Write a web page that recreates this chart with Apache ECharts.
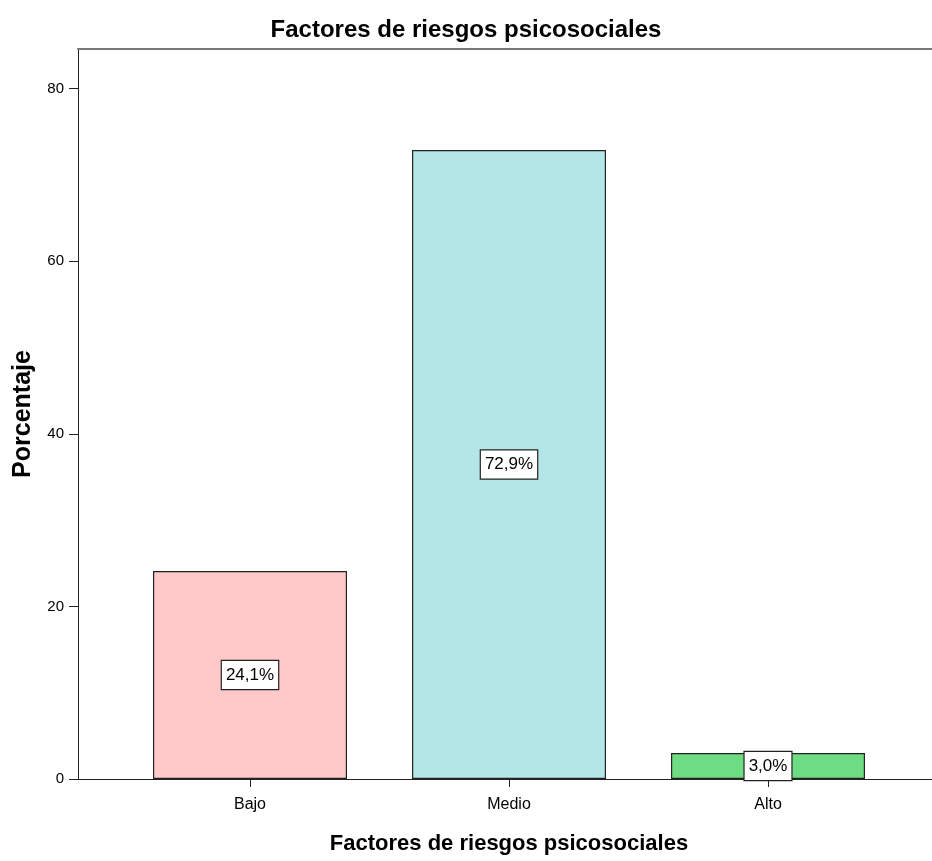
<!DOCTYPE html>
<html><head><meta charset="utf-8">
<script src="https://cdn.jsdelivr.net/npm/echarts@6/dist/echarts.min.js"></script>
<style>html,body{margin:0;padding:0;background:#fff}#c{width:932px;height:861px}</style>
</head><body><div id="c"></div>
<script>
const categories = ['Bajo', 'Medio', 'Alto'];
const values = [24.1, 72.9, 3.0];
const labels = ['24,1%', '72,9%', '3,0%'];
const colors = ['#FFC9C9', '#B4E6E8', '#6EDC82'];
const yTicks = [0, 20, 40, 60, 80];

const FONT = '"Liberation Sans", Arial, sans-serif';
const chart = echarts.init(document.getElementById('c'), null, {renderer: 'canvas'});
const yMax = 84.6;
chart.setOption({
  animation: false,
  backgroundColor: '#fff',
  title: {
    text: 'Factores de riesgos psicosociales',
    left: 'center', top: 13,
    textStyle: {fontFamily: FONT, fontSize: 24, fontWeight: 'bold', color: '#000'}
  },
  grid: [
    {left: 78, right: 0, top: 49, bottom: 82, containLabel: false, outerBoundsMode: 'none'},
    {left: 120.5, width: 777, top: 49, bottom: 82, containLabel: false, outerBoundsMode: 'none'}
  ],
  xAxis: [
    {gridIndex: 0, type: 'value', min: 0, max: 1, axisLine: {show: true, onZero: false, lineStyle: {color: '#222', width: 1}},
     axisTick: {show: false}, axisLabel: {show: false}, splitLine: {show: false}},
    {gridIndex: 0, type: 'value', position: 'top', min: 0, max: 1, axisLine: {show: true, onZero: false, lineStyle: {color: '#777', width: 2}},
     axisTick: {show: false}, axisLabel: {show: false}, splitLine: {show: false}},
    {gridIndex: 1, type: 'category', data: categories, boundaryGap: true,
     axisLine: {show: false}, axisTick: {show: true, alignWithLabel: true, length: 8, lineStyle: {color: '#222'}},
     axisLabel: {fontFamily: FONT, fontSize: 16, color: '#000', margin: 18},
     name: 'Factores de riesgos psicosociales', nameLocation: 'middle', nameGap: 54,
     nameTextStyle: {fontFamily: FONT, fontSize: 22, fontWeight: 'bold', color: '#000'}}
  ],
  yAxis: [
    {gridIndex: 0, type: 'value', min: 0, max: yMax, interval: 20,
     axisLine: {show: true, lineStyle: {color: '#222'}},
     axisTick: {show: true, length: 9, lineStyle: {color: '#222'}, customValues: yTicks},
     axisLabel: {fontFamily: FONT, fontSize: 15, color: '#000', margin: 14, customValues: yTicks},
     splitLine: {show: false},
     name: 'Porcentaje', nameLocation: 'middle', nameGap: 42, nameRotate: 90,
     nameTextStyle: {fontFamily: FONT, fontSize: 25, fontWeight: 'bold', color: '#000'}},
    {gridIndex: 1, type: 'value', min: 0, max: yMax, show: false}
  ],
  series: [{
    type: 'bar', xAxisIndex: 2, yAxisIndex: 1, barWidth: 194,
    data: values.map((v, i) => ({value: v, itemStyle: {color: colors[i]}, label: {formatter: labels[i]}})),
    itemStyle: {borderColor: '#222', borderWidth: 1.2},
    label: {show: true, position: 'inside', fontFamily: FONT, fontSize: 17, color: '#000',
      backgroundColor: '#fff', borderColor: '#222', borderWidth: 1.2, padding: [6, 4, 5, 4]}
  }]
});
</script></body></html>
